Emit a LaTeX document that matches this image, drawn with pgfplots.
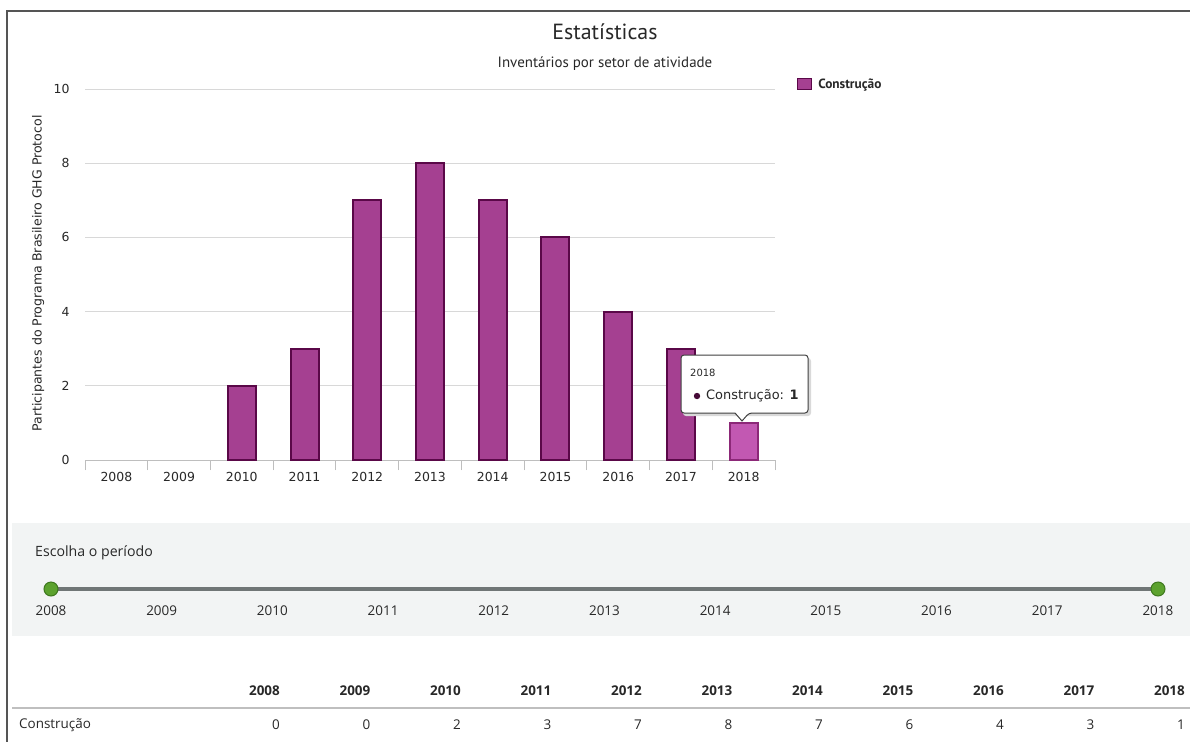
\documentclass[border=0pt]{standalone}
\usepackage{pgfplots}
\pgfplotsset{compat=1.18}
\usepackage{fontspec}
\setmainfont{DejaVu Sans}
\newfontfamily\pts{PT Sans}
\newfontfamily\opensans{Open Sans}
\definecolor{barfill}{RGB}{165,64,145}
\definecolor{bardraw}{RGB}{90,8,72}
\definecolor{barhi}{RGB}{194,88,178}
\definecolor{barhidraw}{RGB}{140,40,120}
\definecolor{bullet}{RGB}{70,10,55}
\definecolor{gridc}{RGB}{216,216,216}
\definecolor{axisc}{RGB}{190,190,190}
\definecolor{panel}{RGB}{242,244,244}
\definecolor{slider}{RGB}{112,118,118}
\definecolor{knob}{RGB}{92,162,46}
\definecolor{knobd}{RGB}{62,120,30}
\definecolor{txt}{RGB}{40,40,40}
\definecolor{frame}{RGB}{85,85,85}

\begin{document}
\begin{tikzpicture}
\path[use as bounding box] (0,0) rectangle (1190bp,-742bp);
\fill[white] (0,0) rectangle (1190bp,-742bp);
\draw[line width=2bp, frame] (7bp,-742bp) -- (7bp,-11bp) -- (1190bp,-11bp);

\node[font=\pts\fontsize{22}{26}\selectfont, text=txt] at (605bp,-32bp) {Estatísticas};
\node[font=\pts\fontsize{15}{18}\selectfont, text=txt] at (605bp,-64bp) {Inventários por setor de atividade};

\begin{axis}[
  at={(85bp,-460bp)}, anchor=south west,
  scale only axis, width=690bp, height=371bp,
  xmin=-0.5, xmax=10.5, ymin=0, ymax=10,
  axis x line*=bottom, axis y line*=left,
  x axis line style={draw=axisc, line width=1bp, -},
  y axis line style={draw=none},
  ytick={0,2,4,6,8,10},
  ymajorgrids, grid style={gridc, line width=1bp},
  xtick={0,...,10},
  xticklabels={2008,2009,2010,2011,2012,2013,2014,2015,2016,2017,2018},
  minor xtick={-0.5,0.5,...,10.5},
  major tick length=0pt, minor tick length=10bp, tick align=outside,
  minor tick style={axisc, line width=1bp},
  /pgf/number format/assume math mode=true,
  tick label style={font=\fontsize{12.5}{14}\selectfont, text=txt},
  xticklabel style={yshift=-9bp},
  yticklabel style={xshift=-12bp},
  ylabel={Participantes do Programa Brasileiro GHG Protocol},
  ylabel style={font=\fontsize{12.6}{14}\selectfont, text=txt, at={(axis description cs:-0.068,0.503)}, anchor=center},
  legend style={at={(axis description cs:1.032,1.032)}, anchor=north west, draw=none, fill=none, inner sep=0pt,
    column sep=4bp, font=\pts\bfseries\fontsize{13.4}{15}\selectfont, text=txt},
  legend image code/.code={\draw[fill=barfill, draw=bardraw, line width=1bp] (0bp,-5bp) rectangle (14bp,6bp);},
  clip=false,
]
\addplot[ybar, bar width=28bp, fill=barfill, draw=bardraw, line width=2bp,
  restrict y to domain=0.01:100]
  coordinates {(0,0) (1,0) (2,2) (3,3) (4,7) (5,8) (6,7) (7,6) (8,4) (9,3) (10,1)};
\addlegendentry{Construção}
\addplot[ybar, bar width=28bp, fill=barhi, draw=barhidraw, line width=2bp, forget plot]
  coordinates {(10,1)};
\end{axis}

% tooltip
\fill[black!15, rounded corners=3bp] (683bp,-358bp) -- (811bp,-358bp) -- (811bp,-416bp) -- (683bp,-416bp) -- cycle;
\draw[line width=1bp, draw=black!75, fill=white, rounded corners=3bp] (681bp,-355bp) -- (808bp,-355bp) -- (808bp,-413bp) -- (749bp,-413bp) [sharp corners] -- (742bp,-421bp) -- (735bp,-413bp) [rounded corners=3bp] -- (681bp,-413bp) -- cycle;
\node[anchor=west, font=\fontsize{10}{12}\selectfont, text=txt, inner sep=0pt] at (690bp,-373bp) {2018};
\fill[bullet] (697bp,-396bp) circle (3.2bp);
\node[anchor=west, font=\fontsize{13}{15}\selectfont, text=txt, inner sep=0pt] at (706bp,-396bp) {Construção: \textbf{1}};

% slider panel
\fill[panel] (12bp,-523bp) rectangle (1190bp,-636bp);
\node[anchor=west, font=\opensans\fontsize{14.2}{16}\selectfont, text=txt, inner sep=0pt] at (35bp,-553bp) {Escolha o período};

\begin{axis}[
  at={(51bp,-594bp)}, anchor=south west,
  scale only axis, width=1107bp, height=10bp,
  xmin=2008, xmax=2018, ymin=0, ymax=1,
  axis line style={draw=none}, ytick=\empty,
  xtick={2008,...,2018}, major tick length=0pt,
  /pgf/number format/1000 sep={},
  /pgf/number format/assume math mode=true,
  scaled x ticks=false,
  xticklabel style={font=\opensans\fontsize{13.5}{15}\selectfont, text=txt, yshift=-8bp},
  clip=false,
]
\addplot[slider, line width=4bp] coordinates {(2008,0.5) (2018,0.5)};
\addplot[only marks, mark=*, mark size=7bp, mark options={fill=knob, draw=knobd, line width=1bp}] coordinates {(2008,0.5) (2018,0.5)};
\end{axis}

% data table
\foreach \yr/\v [count=\i from 0] in {2008/0,2009/0,2010/2,2011/3,2012/7,2013/8,2014/7,2015/6,2016/4,2017/3,2018/1}{
  \pgfmathsetmacro\xx{280+90.5*\i}
  \node[anchor=east, font=\opensans\bfseries\fontsize{13.5}{15}\selectfont, text=txt, inner sep=0pt] at (\xx bp,-691bp) {\yr};
  \node[anchor=east, font=\opensans\fontsize{13.5}{15}\selectfont, text=txt, inner sep=0pt] at (\xx bp,-725bp) {\v};
}
\draw[black!25, line width=2bp] (12bp,-708bp) -- (1190bp,-708bp);
\node[anchor=west, font=\opensans\fontsize{13.5}{15}\selectfont, text=txt, inner sep=0pt] at (19bp,-725bp) {Construção};
\end{tikzpicture}
\end{document}
